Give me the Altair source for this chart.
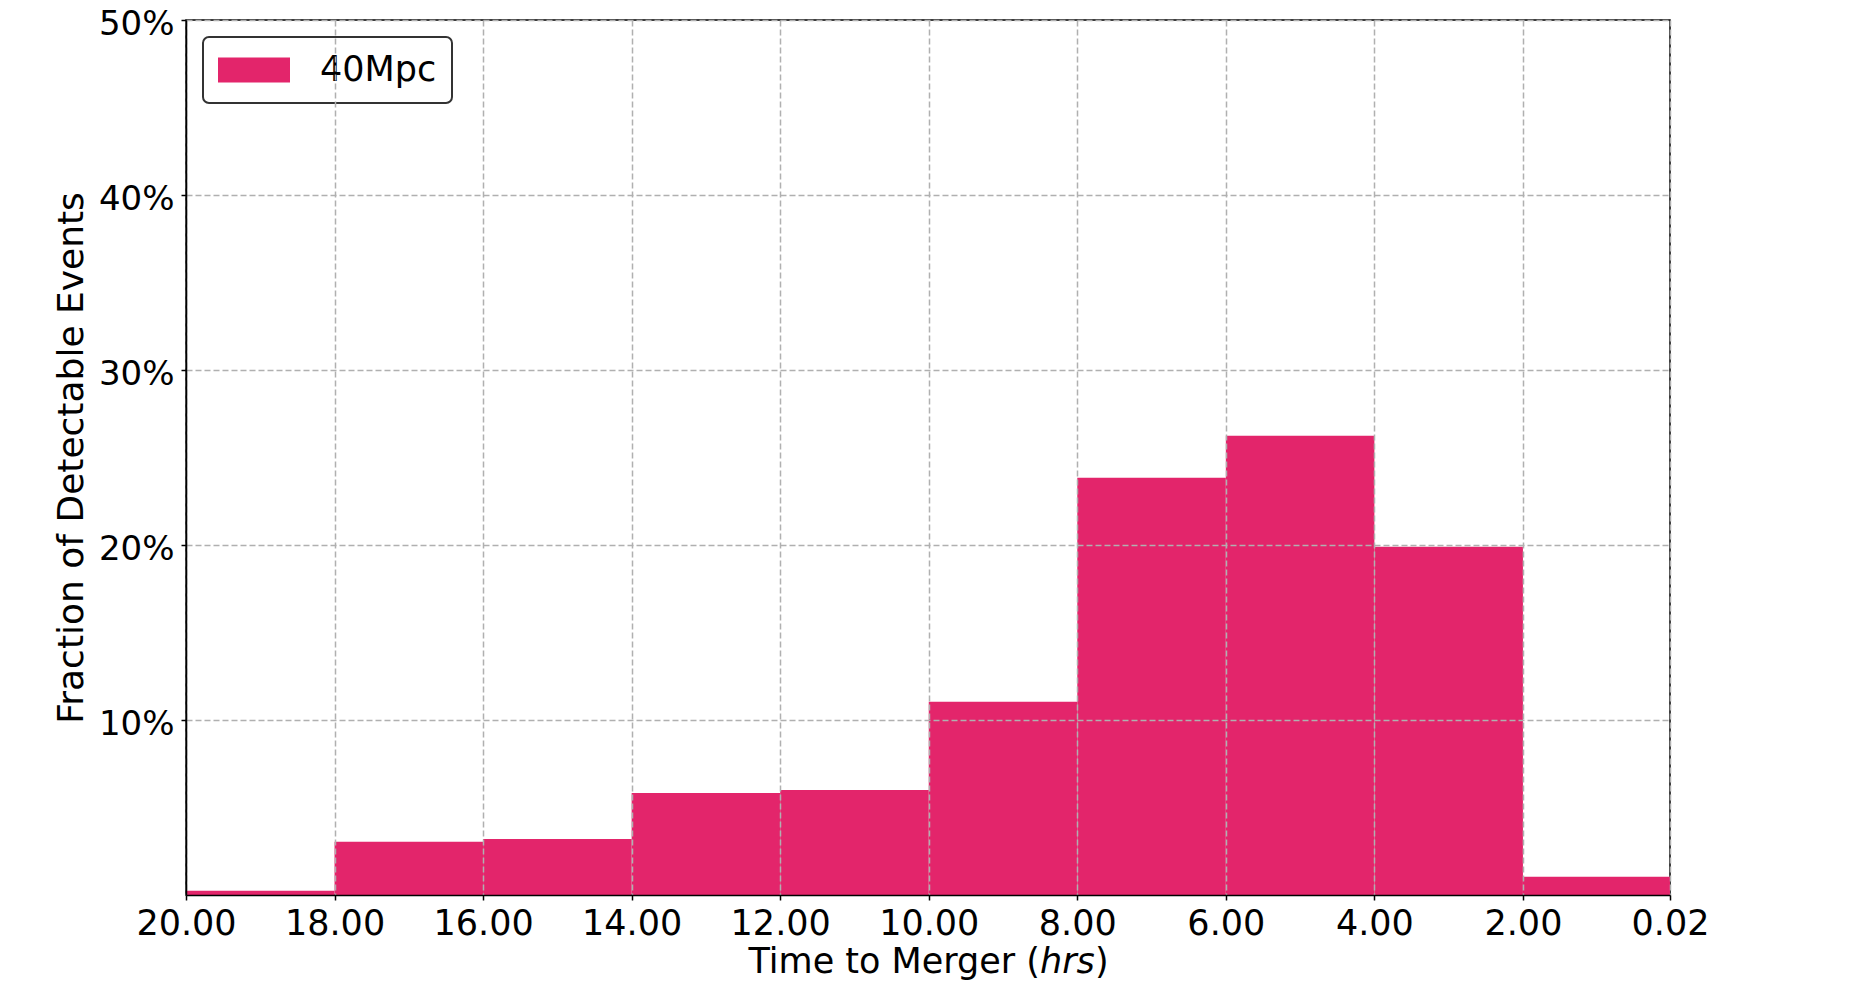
import altair as alt
import pandas as pd

# Histogram bins (hours to merger) and fraction of detectable events (%)
bin_start = [20, 18, 16, 14, 12, 10, 8, 6, 4, 2]
bin_end = [18, 16, 14, 12, 10, 8, 6, 4, 2, 0.02]
fraction_pct = [0.25, 3.05, 3.2, 5.83, 6.0, 11.05, 23.85, 26.25, 19.9, 1.05]
series_name = "40Mpc"
x_ticks = [20, 18, 16, 14, 12, 10, 8, 6, 4, 2, 0.02]
y_ticks = [10, 20, 30, 40, 50]
x_title_parts = ["Time to Merger (", "hrs", ")"]

df = pd.DataFrame({
    "start": bin_start,
    "end": bin_end,
    "frac": fraction_pct,
    "series": [series_name] * len(bin_start),
})

FONT = "DejaVu Sans"
BAR_COLOR = "#e3256b"
W, H = 1484, 875
TITLE_SIZE = 35
TITLE_BASE = H + 78
# split point of the x title (start of the italic part), in pixels from plot left
SPLIT = 854

bars = alt.Chart(df).mark_bar(strokeWidth=0).encode(
    x=alt.X(
        "start:Q",
        scale=alt.Scale(domain=[20, 0.02], nice=False, zero=False),
        axis=alt.Axis(
            values=x_ticks,
            format=".2f",
            title=None,
            labelFont=FONT,
            labelFontSize=35,
            labelColor="black",
            labelPadding=6,
            labelFlush=False,
            labelOverlap=False,
            tickSize=5,
            tickWidth=1.5,
            tickColor="black",
            domainColor="black",
            domainWidth=1.5,
            grid=True,
            gridColor="#b0b0b0",
            gridDash=[6, 3],
            gridWidth=1.5,
            zindex=1,
        ),
    ),
    x2="end:Q",
    y=alt.Y(
        "frac:Q",
        scale=alt.Scale(domain=[0, 50], nice=False),
        axis=alt.Axis(
            values=y_ticks,
            labelExpr="datum.value + '%'",
            title="Fraction of Detectable Events",
            titleFont=FONT,
            titleFontSize=36,
            titleFontWeight="normal",
            titleColor="black",
            titleBaseline="alphabetic",
            titleAngle=270,
            titleX=-104,
            titleY=437.5,
            labelFont=FONT,
            labelFontSize=34,
            labelColor="black",
            labelPadding=7,
            labelBaseline="alphabetic",
            labelOffset=14.5,
            labelFlush=False,
            tickSize=5,
            tickWidth=1.5,
            tickColor="black",
            domainColor="black",
            domainWidth=1.5,
            grid=True,
            gridColor="#b0b0b0",
            gridDash=[6, 3],
            gridWidth=1.5,
            zindex=1,
        ),
    ),
    y2=alt.datum(0),
    color=alt.Color(
        "series:N",
        scale=alt.Scale(domain=[series_name], range=[BAR_COLOR]),
        legend=alt.Legend(
            title=None,
            orient="none",
            legendX=17,
            legendY=17,
            padding=15,
            strokeColor="#333333",
            fillColor="white",
            symbolType="M-2,-0.694H2V0.694H-2Z",
            symbolSize=1296,
            symbolOffset=18,
            symbolStrokeWidth=0,
            symbolOpacity=1,
            labelFont=FONT,
            labelFontSize=35,
            labelColor="black",
            labelOffset=48,
        ),
    ),
)


def title_piece(text, align, dx, style):
    return alt.Chart(pd.DataFrame({"t": [text]})).mark_text(
        font=FONT,
        fontSize=TITLE_SIZE,
        fontStyle=style,
        color="black",
        align=align,
        baseline="alphabetic",
    ).encode(
        text="t:N",
        x=alt.value(SPLIT + dx),
        y=alt.value(TITLE_BASE),
    )


t1 = title_piece(x_title_parts[0], "right", 0, "normal")
t2 = title_piece(x_title_parts[1], "left", 0, "italic")
t3 = title_piece(x_title_parts[2], "left", 55, "normal")

chart = alt.layer(bars, t1, t2, t3).properties(
    width=W,
    height=H,
    autosize=alt.AutoSizeParams(type="none"),
    padding={"left": 178, "top": 12, "right": 170, "bottom": 95},
    background="white",
).configure_view(
    stroke="black",
    strokeWidth=1.5,
).configure_legend(
    strokeWidth=2,
    cornerRadius=6,
)

chart.save("out.html", embed_options={"renderer": "svg", "actions": False})
